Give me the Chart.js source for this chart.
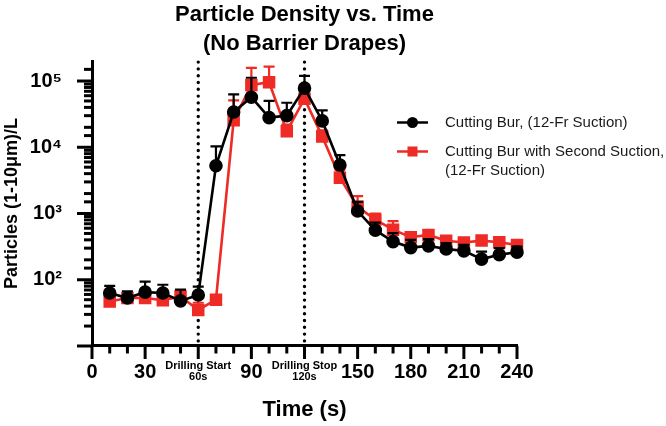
<!DOCTYPE html>
<html><head><meta charset="utf-8">
<script src="https://cdn.jsdelivr.net/npm/chart.js@4.4.1/dist/chart.umd.min.js"></script>
<style>html,body{margin:0;padding:0;background:#fff}</style>
</head><body>
<canvas id="c" width="666" height="426"></canvas>
<script>
const times = [10,20,30,40,50,60,70,80,90,100,110,120,130,140,150,160,170,180,190,200,210,220,230,240];
const blackMean   = [63,53,65,63,48,59,5250,34000,57000,28000,30000,78000,25000,5400,1090,560,377,306,325,292,273,205,238,261];
const blackErrTop = [81,67,94,84,71,79,10300,63000,112000,50000,47000,120000,36000,7600,1500,730,505,400,410,356,335,266,300,317];
const redMean     = [47,53,53,49,56,35,50,25500,87000,96000,17400,54000,14600,3470,1260,810,570,438,475,387,365,390,369,335];
const redErrTop   = [58,60,70,60,68,45,55,51000,158000,165000,22000,65000,18000,4500,1830,1000,770,520,540,430,400,430,410,376];
const seriesNames = [['Cutting Bur, (12-Fr Suction)'], ['Cutting Bur with Second Suction,', '(12-Fr Suction)']];
const seriesColors = ['#000000', '#ee2b25'];
const xTickLabels = {0:'0',30:'30',60:['Drilling Start','60s'],90:'90',120:['Drilling Stop','120s'],150:'150',180:'180',210:'210',240:'240'};
const yTickLabels = {100:'10\u00B2',1000:'10\u00B3',10000:'10\u2074',100000:'10\u2075'};
const eventTimes = [60, 120];
const errorTops = [blackErrTop, redErrTop];
const FONT = "'Liberation Sans', Arial, sans-serif";

function pts(ys){ return times.map((t,i)=>({x:t,y:ys[i]})); }

const errorBars = {
  id:'errorBars',
  beforeDatasetDraw(chart, args){
    const i = args.index;
    const xs = chart.scales.x, ys = chart.scales.y, ctx = chart.ctx;
    const tops = errorTops[i], means = i===0?blackMean:redMean;
    ctx.save();
    ctx.strokeStyle = seriesColors[i]; ctx.lineWidth = 2.2;
    times.forEach((t,k)=>{
      const px = xs.getPixelForValue(t);
      const y1 = ys.getPixelForValue(means[k]);
      const y2 = ys.getPixelForValue(tops[k]);
      ctx.beginPath(); ctx.moveTo(px,y1); ctx.lineTo(px,y2);
      ctx.moveTo(px-5.5,y2); ctx.lineTo(px+5.5,y2); ctx.stroke();
    });
    ctx.restore();
  }
};

const decor = {
  id:'decor',
  beforeDatasetsDraw(chart){
    const {ctx, chartArea:a} = chart; const xs = chart.scales.x;
    ctx.save();
    ctx.strokeStyle='#000'; ctx.lineWidth=3.4; ctx.lineCap='round'; ctx.setLineDash([0,6.8]);
    eventTimes.forEach(t=>{
      const px = xs.getPixelForValue(t);
      ctx.beginPath(); ctx.moveTo(px,a.top+1); ctx.lineTo(px,a.bottom-3); ctx.stroke();
    });
    ctx.restore();
  },
  afterDraw(chart){
    const {ctx, chartArea:a} = chart; const xs = chart.scales.x, ys = chart.scales.y;
    ctx.save();
    ctx.strokeStyle='#000'; ctx.lineWidth=3; ctx.lineCap='butt';
    xs.ticks.forEach(tk=>{
      const px = xs.getPixelForValue(tk.value);
      const len = (tk.value % 30 === 0) ? 13 : 7.5;
      ctx.beginPath(); ctx.moveTo(px,a.bottom); ctx.lineTo(px,a.bottom+len); ctx.stroke();
    });
    ys.ticks.forEach(tk=>{
      const py = ys.getPixelForValue(tk.value);
      const lg = Math.log10(tk.value);
      const major = Math.abs(lg-Math.round(lg))<1e-6;
      if (tk.value >= 200000) return;
      const len = major ? 15 : 8;
      ctx.beginPath(); ctx.moveTo(a.left,py); ctx.lineTo(a.left-len,py); ctx.stroke();
    });
    // legend
    const lx0 = 397, lx1 = 428, cx = 412.5, tx = 445;
    const rows = [122.5, 151.5];
    ctx.font = '15px ' + FONT; ctx.textBaseline='middle'; ctx.textAlign='left';
    rows.forEach((y,i)=>{
      ctx.strokeStyle = seriesColors[i]; ctx.fillStyle = seriesColors[i]; ctx.lineWidth = 2.5;
      ctx.beginPath(); ctx.moveTo(lx0,y); ctx.lineTo(lx1,y); ctx.stroke();
      if (i===0){ ctx.beginPath(); ctx.arc(cx,y,5.5,0,Math.PI*2); ctx.fill(); }
      else { ctx.fillRect(cx-5,y-5,10,10); }
      ctx.fillStyle = '#1a1a1a';
      seriesNames[i].forEach((s,j)=>ctx.fillText(s, tx, y + j*19));
    });
    ctx.restore();
  }
};

new Chart(document.getElementById('c'), {
  type:'line',
  data:{ datasets:[
    {label:seriesNames[0].join(' '), data:pts(blackMean), borderColor:seriesColors[0], backgroundColor:seriesColors[0],
     borderWidth:2.6, pointStyle:'circle', pointRadius:5.5, pointHoverRadius:5.5, tension:0, clip:false},
    {label:seriesNames[1].join(' '), data:pts(redMean), borderColor:seriesColors[1], backgroundColor:seriesColors[1],
     borderWidth:2.6, pointStyle:'rect', pointRadius:7, pointHoverRadius:7, tension:0, clip:false}
  ]},
  options:{
    responsive:false, animation:false, devicePixelRatio:1,
    layout:{padding:{left:0,right:149,top:0,bottom:0}},
    plugins:{
      legend:{display:false}, tooltip:{enabled:false},
      title:{display:true, fullSize:false, text:['Particle Density vs. Time','(No Barrier Drapes)'], color:'#000',
        font:{family:FONT, size:22, weight:'bold', lineHeight:1.32}, padding:{top:0,bottom:3}}
    },
    scales:{
      x:{type:'linear', min:0, max:240,
        afterFit(s){ s.height = 80; },
        grid:{display:false, drawTicks:false},
        border:{display:true, color:'#000', width:3},
        ticks:{stepSize:10, autoSkip:false, maxRotation:0, minRotation:0, padding:14, color:'#000',
          callback:(v)=> (xTickLabels[v] !== undefined ? xTickLabels[v] : ''),
          font:(ctx)=>{ const v = ctx.tick && ctx.tick.value; return (v===60||v===120) ? {family:FONT,size:11,weight:'bold',lineHeight:1.05} : {family:FONT,size:20,weight:'bold',lineHeight:1.2}; }
        },
        title:{display:true, text:'Time (s)', color:'#000', font:{family:FONT,size:22,weight:'bold',lineHeight:1.2}, padding:{top:0,bottom:3}}
      },
      y:{type:'logarithmic', min:10, max:200000,
        afterFit(s){ s.width = 92; },
        grid:{display:false, drawTicks:false},
        border:{display:true, color:'#000', width:3},
        ticks:{autoSkip:false, padding:30, color:'#000', font:{family:FONT,size:20,weight:'bold'},
          callback:(v)=>{ for (const k in yTickLabels){ if (Math.abs(Math.log10(v)-Math.log10(+k))<1e-6) return yTickLabels[k]; } return ''; }
        },
        title:{display:true, text:'Particles (1-10\u03BCm)/L', color:'#000', font:{family:FONT,size:18,weight:'bold',lineHeight:1.2}, padding:{top:1,bottom:0}}
      }
    }
  },
  plugins:[errorBars, decor]
});
</script>
</body></html>
